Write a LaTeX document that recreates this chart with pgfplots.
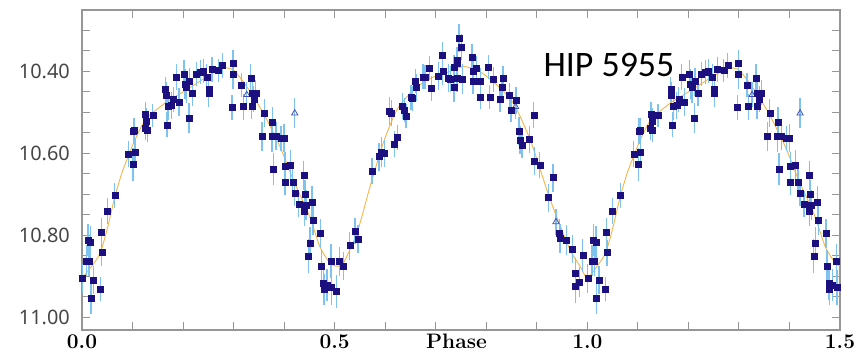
\documentclass[border=0pt]{standalone}
\usepackage{pgfplots}
\pgfplotsset{compat=1.18}
\usepackage{pgfplotstable}
\usepackage{fontspec}
\newfontfamily\carlito{Carlito}
\newfontfamily\notosans{Noto Sans}
\definecolor{mk}{RGB}{28,16,128}
\definecolor{ebc}{RGB}{125,195,238}
\definecolor{fitc}{RGB}{245,180,70}
\definecolor{trc}{RGB}{70,80,175}
\definecolor{labgray}{RGB}{70,70,70}
\definecolor{axgray}{RGB}{150,150,150}

\pgfplotstableread{
x y e
0.001 10.906 0.035
0.009 10.863 0.038
0.014 10.863 0.036
0.012 10.812 0.040
0.017 10.817 0.038
0.018 10.953 0.040
0.023 10.910 0.034
0.036 10.932 0.030
0.038 10.792 0.034
0.039 10.843 0.032
0.050 10.742 0.032
0.065 10.704 0.030
0.092 10.602 0.032
0.101 10.628 0.040
0.105 10.597 0.034
0.102 10.546 0.032
0.104 10.544 0.030
0.126 10.506 0.030
0.128 10.522 0.032
0.129 10.544 0.030
0.125 10.540 0.028
0.140 10.508 0.028
0.165 10.445 0.030
0.166 10.458 0.032
0.168 10.531 0.030
0.170 10.485 0.034
0.177 10.484 0.032
0.181 10.469 0.030
0.187 10.414 0.032
0.192 10.475 0.034
0.202 10.407 0.034
0.204 10.432 0.036
0.207 10.440 0.038
0.213 10.426 0.034
0.212 10.515 0.036
0.219 10.453 0.032
0.226 10.407 0.030
0.234 10.402 0.030
0.240 10.400 0.030
0.247 10.416 0.032
0.251 10.445 0.034
0.251 10.453 0.034
0.257 10.396 0.030
0.270 10.399 0.028
0.278 10.386 0.030
0.297 10.489 0.030
0.299 10.381 0.032
0.299 10.407 0.036
0.316 10.434 0.030
0.319 10.487 0.032
0.334 10.418 0.034
0.336 10.487 0.030
0.337 10.453 0.036
0.340 10.468 0.032
0.344 10.453 0.030
0.356 10.560 0.036
0.361 10.503 0.034
0.376 10.560 0.038
0.377 10.525 0.036
0.379 10.639 0.040
0.384 10.559 0.034
0.394 10.564 0.030
0.400 10.564 0.034
0.402 10.633 0.036
0.402 10.670 0.032
0.412 10.629 0.036
0.417 10.672 0.034
0.421 10.697 0.032
0.429 10.724 0.032
0.439 10.655 0.036
0.441 10.700 0.034
0.443 10.727 0.036
0.440 10.743 0.034
0.455 10.719 0.038
0.457 10.765 0.036
0.451 10.820 0.040
0.448 10.851 0.042
0.472 10.796 0.036
0.474 10.876 0.040
0.493 10.863 0.042
0.478 10.918 0.040
0.479 10.932 0.038
0.485 10.922 0.040
0.494 10.928 0.042
}\tA

\pgfplotstableread{
x y e
0.503 10.938 0.040
0.509 10.865 0.036
0.517 10.875 0.034
0.530 10.826 0.034
0.540 10.790 0.032
0.546 10.810 0.034
0.574 10.644 0.032
0.588 10.609 0.034
0.592 10.597 0.036
0.598 10.601 0.032
0.608 10.497 0.034
0.612 10.503 0.032
0.618 10.578 0.032
0.624 10.562 0.030
0.634 10.485 0.032
0.638 10.495 0.030
0.641 10.510 0.030
0.651 10.464 0.030
0.654 10.467 0.030
0.660 10.424 0.030
0.662 10.440 0.032
0.675 10.414 0.030
0.679 10.415 0.030
0.687 10.393 0.030
0.692 10.442 0.030
0.705 10.412 0.034
0.713 10.361 0.032
0.714 10.400 0.034
0.725 10.418 0.034
0.729 10.420 0.032
0.736 10.391 0.030
0.736 10.440 0.036
0.742 10.373 0.032
0.743 10.381 0.030
0.742 10.418 0.032
0.746 10.319 0.034
0.751 10.341 0.032
0.753 10.420 0.036
0.772 10.367 0.032
0.774 10.400 0.030
0.781 10.393 0.030
0.774 10.426 0.030
0.788 10.424 0.032
0.788 10.463 0.030
0.804 10.390 0.030
0.807 10.463 0.030
0.814 10.420 0.030
0.827 10.469 0.032
0.831 10.440 0.030
0.833 10.418 0.030
0.846 10.460 0.030
0.849 10.495 0.030
0.859 10.472 0.032
0.865 10.546 0.034
0.867 10.568 0.034
0.871 10.580 0.032
0.885 10.567 0.032
0.894 10.507 0.032
0.895 10.619 0.034
0.906 10.629 0.032
0.923 10.709 0.034
0.932 10.660 0.034
0.945 10.796 0.036
0.946 10.809 0.036
0.959 10.812 0.036
0.971 10.834 0.034
0.976 10.892 0.036
0.976 10.926 0.040
0.984 10.914 0.036
0.991 10.850 0.040
}\tB

\pgfplotstableread{
x y e
0.326 10.458 0.030
0.421 10.503 0.036
0.858 10.487 0.030
0.938 10.768 0.032
1.326 10.458 0.030
1.421 10.503 0.036
}\tT

\begin{document}
\begin{tikzpicture}
\useasboundingbox (-82bp,-26bp) rectangle (777bp,330bp);
\begin{axis}[
  at={(0,0)}, anchor=south west,
  scale only axis, width=758bp, height=320bp,
  xmin=0, xmax=1.5, ymin=10.2512, ymax=11.0317, y dir=reverse,
  xtick={0,0.5,1,1.5}, xticklabels={0.0,0.5,1.0,1.5},
  minor xtick={0.1,0.2,0.3,0.4,0.6,0.7,0.8,0.9,1.1,1.2,1.3,1.4},
  ytick={10.4,10.6,10.8,11.0}, yticklabels={10.40,10.60,10.80,11.00},
  minor ytick={10.30,10.35,10.45,10.50,10.55,10.65,10.70,10.75,10.85,10.90,10.95},
  major tick length=8bp, minor tick length=8bp,
  tick style={color=axgray, line width=1bp},
  axis line style={axgray, line width=1.5bp},
  xticklabel style={font=\bfseries\fontsize{21}{21}\selectfont, anchor=base, yshift=-18bp, inner sep=0pt},
  yticklabel style={font=\notosans\fontsize{20}{20}\selectfont, text=labgray, anchor=east, inner sep=0pt, xshift=-12bp},
  xlabel={Phase},
  xlabel style={at={(axis description cs:0.494,0)}, anchor=base, yshift=-18bp, inner sep=0pt, font=\bfseries\fontsize{21}{21}\selectfont},
  error bars/error bar style={color=ebc, line width=1.3bp},
]
\addplot[fitc, line width=0.9bp, smooth, tension=0.4] coordinates {
(0.000,10.905) (0.020,10.875) (0.036,10.844) (0.050,10.785) (0.065,10.707) (0.080,10.645)
(0.102,10.576) (0.120,10.530) (0.135,10.507) (0.168,10.475) (0.207,10.446) (0.247,10.414)
(0.280,10.393) (0.300,10.398) (0.326,10.438) (0.359,10.503) (0.392,10.585) (0.418,10.666)
(0.448,10.747) (0.471,10.829) (0.491,10.869) (0.505,10.876) (0.517,10.869) (0.544,10.796)
(0.570,10.682) (0.596,10.576) (0.623,10.495) (0.656,10.446) (0.689,10.418) (0.722,10.404)
(0.755,10.389) (0.788,10.402) (0.821,10.434) (0.854,10.479) (0.887,10.568) (0.920,10.690)
(0.939,10.755) (0.966,10.837) (0.986,10.877) (1.000,10.905) (1.020,10.875) (1.036,10.844)
(1.050,10.785) (1.065,10.707) (1.080,10.645) (1.102,10.576) (1.120,10.530) (1.135,10.507)
(1.168,10.475) (1.207,10.446) (1.247,10.414) (1.280,10.393) (1.300,10.398) (1.326,10.438)
(1.359,10.503) (1.392,10.585) (1.418,10.666) (1.448,10.747) (1.471,10.829) (1.491,10.869)
(1.500,10.875)
};
\addplot[only marks, mark=triangle, mark size=3.6bp, color=trc, line width=0.8bp,
  error bars/.cd, y dir=both, y explicit, error mark=none]
  table[x=x, y=y, y error=e] {\tT};
\addplot[only marks, mark=square*, mark size=3bp, color=mk,
  error bars/.cd, y dir=both, y explicit, error mark=none]
  table[x=x, y=y, y error=e] {\tA};
\addplot[only marks, mark=square*, mark size=3bp, color=mk,
  error bars/.cd, y dir=both, y explicit, error mark=none]
  table[x=x, y=y, y error=e] {\tB};
\addplot[only marks, mark=square*, mark size=3bp, color=mk,
  error bars/.cd, y dir=both, y explicit, error mark=none]
  table[x expr=\thisrow{x}+1, y=y, y error=e] {\tA};
\node[anchor=base west, inner sep=0pt, font=\carlito\fontsize{36}{36}\selectfont] at (axis cs:0.913,10.414) {HIP 5955};
\end{axis}
\end{tikzpicture}
\end{document}
